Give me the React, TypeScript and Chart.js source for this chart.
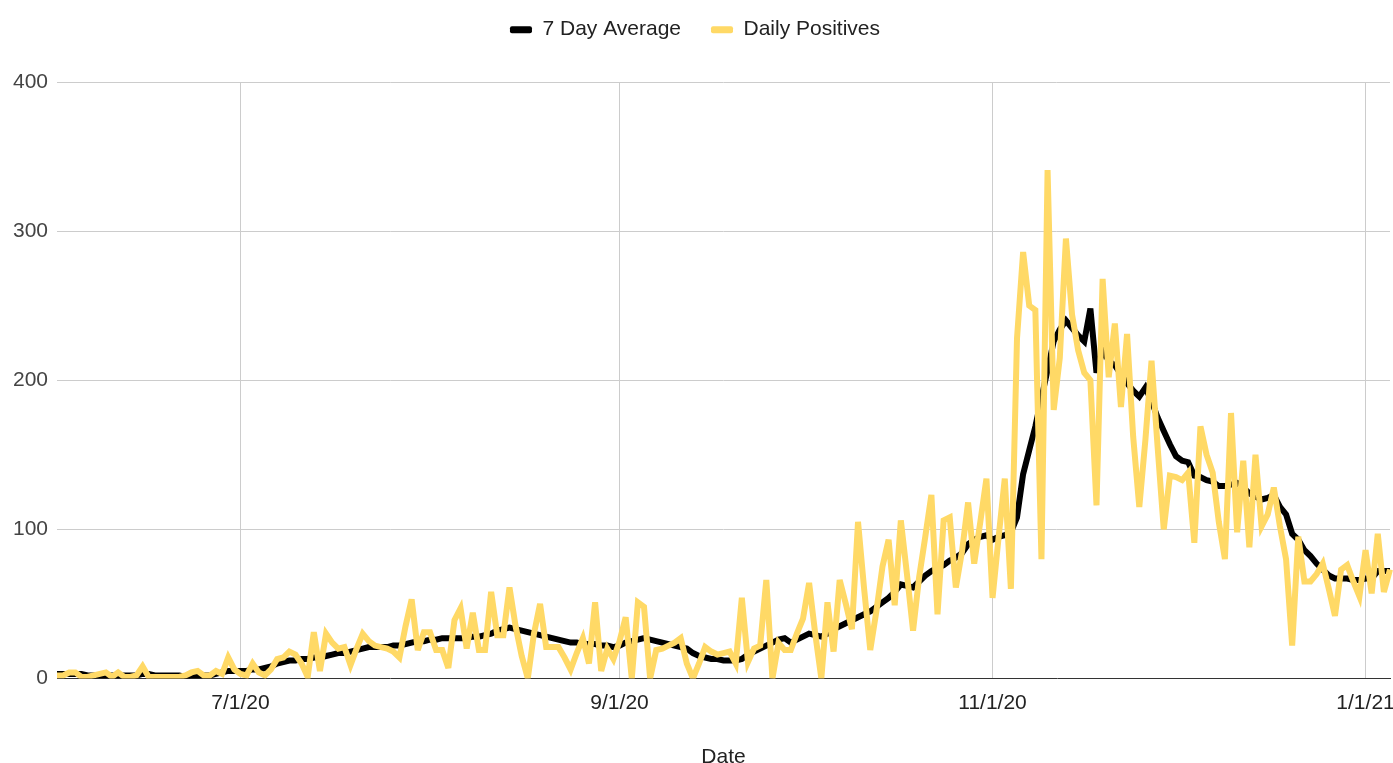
import React, { useEffect, useRef } from 'react';
import { Chart, registerables } from 'chart.js';

Chart.register(...registerables);

// ---- Data ----
const START_YEAR = 2020;
const START_MONTH = 5; // June (0-based)
const START_DAY = 1;

const DAILY_POSITIVES = [
  2, 2, 4, 4, 1, 1, 2, 3, 4, 1,
  4, 1, 1, 2, 8, 1, 1, 1, 1, 1,
  1, 2, 4, 5, 2, 2, 5, 3, 14, 6,
  3, 2, 10, 4, 2, 6, 13, 14, 18, 16,
  10, 1, 31, 5, 30, 24, 20, 21, 9, 20,
  30, 25, 22, 21, 20, 18, 14, 35, 53, 19,
  31, 31, 19, 19, 7, 39, 47, 20, 44, 19,
  19, 58, 29, 29, 61, 35, 15, 0, 30, 50,
  21, 21, 21, 14, 6, 17, 27, 10, 51, 5,
  20, 13, 25, 41, 0, 51, 48, 0, 19, 20,
  22, 24, 27, 10, 0, 10, 21, 18, 16, 17,
  18, 10, 54, 11, 20, 22, 66, 0, 24, 19,
  19, 30, 40, 64, 30, 0, 51, 18, 66, 50,
  33, 105, 60, 19, 45, 75, 93, 49, 106, 70,
  32, 68, 95, 123, 43, 106, 108, 61, 85, 118,
  77, 105, 134, 54, 95, 134, 60, 228, 286, 250,
  247, 80, 341, 180, 215, 295, 244, 220, 205, 200,
  116, 268, 202, 238, 182, 231, 162, 115, 160, 213,
  155, 100, 136, 135, 133, 138, 91, 169, 150, 138,
  105, 80, 178, 98, 146, 88, 150, 102, 110, 128,
  102, 80, 22, 95, 65, 65, 70, 77, 60, 42,
  73, 76, 65, 55, 86, 57, 97, 58, 73,
];

const SEVEN_DAY_AVERAGE = [
  3, 3, 3, 3, 3, 2, 2, 2, 2, 2,
  2, 2, 2, 2, 3, 3, 2, 2, 2, 2,
  2, 1, 2, 2, 2, 2, 3, 4, 5, 5,
  5, 5, 6, 6, 7, 8, 10, 11, 12, 12,
  13, 13, 14, 14, 15, 16, 17, 17, 18, 19,
  20, 21, 21, 21, 21, 22, 22, 23, 24, 25,
  25, 26, 26, 27, 27, 27, 27, 27, 28, 28,
  29, 30, 32, 33, 34, 33, 32, 31, 30, 29,
  28, 27, 26, 25, 24, 24, 23, 23, 23, 22,
  22, 21, 22, 24, 25, 26, 27, 26, 25, 24,
  23, 22, 21, 20, 17, 15, 14, 13, 13, 12,
  12, 12, 13, 16, 18, 20, 22, 24, 26, 27,
  24, 26, 28, 30, 29, 28, 30, 33, 35, 37,
  39, 41, 43, 45, 48, 51, 54, 58, 63, 62,
  61, 65, 69, 72, 74, 76, 79, 81, 84, 90,
  93, 95, 96, 93, 95, 96, 98, 108, 137, 153,
  169, 188, 207, 226, 234, 240, 235, 230, 226, 248,
  205, 220, 213, 210, 204, 198, 193, 189, 195, 186,
  175, 166, 157, 149, 146, 145, 136, 135, 133, 132,
  129, 129, 130, 131, 128, 124, 122, 120, 121, 123,
  115, 110, 97, 93, 86, 82, 77, 73, 69, 67,
  67, 67, 66, 66, 67, 67, 72, 72, 72,
];

const X_TICK_LABELS = ['7/1/20', '9/1/20', '11/1/20', '1/1/21'];
const Y_MIN = 0;
const Y_MAX = 400;
const Y_STEP = 100;

const SERIES_LABELS = ['7 Day Average', 'Daily Positives'];
const X_TITLE = 'Date';

// category labels: one per day, starting 6/1/20
const DATES = DAILY_POSITIVES.map((_, i) => {
  const d = new Date(START_YEAR, START_MONTH, START_DAY + i);
  return `${d.getMonth() + 1}/${d.getDate()}/${String(d.getFullYear()).slice(2)}`;
});

// ---- Styles ----
const FONT_FAMILY = "'Liberation Sans', Arial, Helvetica, sans-serif";
const BLACK = '#000000';
const YELLOW = '#ffd966';
const GRID = '#cccccc';
const LEGEND_HEIGHT = 82;
const LEGEND_SHIFT = -10.8;

const legendLayoutPlugin = {
  id: 'legendLayout',
  afterInit(chart: any) {
    const legend = chart.legend;
    if (!legend || legend.__patched) return;
    legend.__patched = true;
    const fit = legend.fit.bind(legend);
    legend.fit = function () {
      fit();
      this.height = LEGEND_HEIGHT;
    };
    const draw = legend.draw.bind(legend);
    legend.draw = function (...args: any[]) {
      const ctx = chart.ctx;
      ctx.save();
      ctx.translate(0, LEGEND_SHIFT);
      draw(...args);
      ctx.restore();
    };
  },
};

const miterPlugin = {
  id: 'miterLimit',
  beforeDatasetsDraw(chart: any) {
    chart.ctx.miterLimit = 4;
  },
};

export default function App() {
  const canvasRef = useRef<HTMLCanvasElement | null>(null);

  useEffect(() => {
    if (!canvasRef.current) return;
    const font = { family: FONT_FAMILY, size: 21 };
    const chart = new Chart(canvasRef.current, {
      type: 'line',
      data: {
        labels: DATES,
        datasets: [
          {
            label: SERIES_LABELS[0],
            data: SEVEN_DAY_AVERAGE,
            borderColor: BLACK,
            backgroundColor: BLACK,
            borderWidth: 6,
            pointRadius: 0,
            pointHoverRadius: 0,
            tension: 0,
            order: 1,
          },
          {
            label: SERIES_LABELS[1],
            data: DAILY_POSITIVES,
            borderColor: YELLOW,
            backgroundColor: YELLOW,
            borderWidth: 6,
            pointRadius: 0,
            pointHoverRadius: 0,
            tension: 0,
            order: 0,
          },
        ],
      },
      options: {
        animation: false,
        responsive: false,
        layout: { padding: { left: 0, right: 3, top: 0, bottom: 0 } },
        plugins: {
          legend: {
            position: 'top',
            align: 'center',
            labels: {
              font,
              color: '#222222',
              boxWidth: 22,
              boxHeight: 7,
              padding: 30,
              sort: (a: any, b: any) => a.datasetIndex - b.datasetIndex,
              generateLabels: (c: any) =>
                Chart.defaults.plugins.legend.labels
                  .generateLabels(c)
                  .map((l: any) => ({ ...l, lineWidth: 0, fillStyle: l.strokeStyle, borderRadius: 2 })),
            },
          },
          tooltip: { enabled: false },
        },
        scales: {
          x: {
            type: 'category',
            grid: { color: GRID, lineWidth: 1, drawTicks: false },
            border: { color: '#333333', width: 1 },
            ticks: {
              font,
              color: '#222222',
              padding: 12,
              autoSkip: false,
              maxRotation: 0,
              minRotation: 0,
            },
            title: {
              display: true,
              text: X_TITLE,
              font,
              color: '#222222',
              padding: { top: 17.2, bottom: -7 },
            },
            afterBuildTicks: (scale: any) => {
              scale.ticks = scale.ticks.filter((t: any) => X_TICK_LABELS.includes(DATES[t.value]));
            },
            afterFit: (scale: any) => {
              scale.paddingLeft = 0;
              scale.paddingRight = 0;
            },
          },
          y: {
            min: Y_MIN,
            max: Y_MAX,
            ticks: { stepSize: Y_STEP, font, color: '#444444', padding: 9 },
            grid: {
              color: (ctx: any) => (ctx.tick && ctx.tick.value === 0 ? 'rgba(0,0,0,0)' : GRID),
              drawTicks: false,
            },
            border: { display: false },
            afterFit: (scale: any) => {
              scale.width = 57;
            },
          },
        },
      } as any,
      plugins: [legendLayoutPlugin, miterPlugin],
    } as any);
    return () => chart.destroy();
  }, []);

  return (
    <div style={{ position: 'fixed', left: 0, top: 0, width: 1393, height: 763, background: '#ffffff' }}>
      <canvas ref={canvasRef} width={1393} height={763} style={{ display: 'block' }} />
    </div>
  );
}
